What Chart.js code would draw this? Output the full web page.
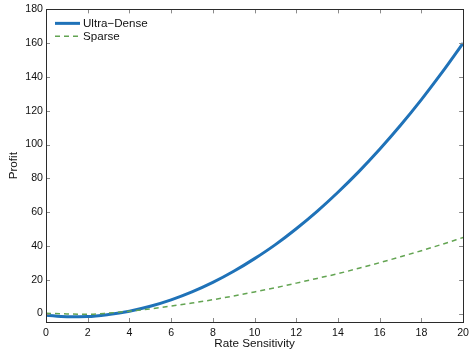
<!DOCTYPE html>
<html>
<head>
<meta charset="utf-8">
<script src="https://cdn.jsdelivr.net/npm/chart.js@4.4.1/dist/chart.umd.min.js"></script>
<style>
  html, body { margin: 0; padding: 0; background: #fff; }
  #wrap { width: 474px; height: 356px; }
</style>
</head>
<body>
<div id="wrap"><canvas id="chart" width="474" height="356"></canvas></div>
<script>
const rate = [0, 1, 2, 3, 4, 5, 6, 7, 8, 9, 10, 11, 12, 13, 14, 15, 16, 17, 18, 19, 20];
const ultraDense = [-1.0, -1.9, -1.8, -0.6, 1.4, 4.3, 8.1, 12.8, 18.4, 25.0, 32.5, 40.8, 50.2, 60.5, 71.8, 84.0, 97.2, 111.4, 126.6, 142.8, 160.0];
const sparse = [0.2, -0.2, -0.4, 0.3, 1.4, 2.8, 4.4, 6.2, 8.2, 10.4, 12.8, 15.3, 18.0, 20.8, 23.6, 26.8, 30.1, 33.6, 37.2, 41.0, 45.0];
const xTicks = [0, 2, 4, 6, 8, 10, 12, 14, 16, 18, 20];
const yTicks = [0, 20, 40, 60, 80, 100, 120, 140, 160, 180];

const font = "'Liberation Sans', Arial, Helvetica, sans-serif";

function toPoints(xs, ys) {
    return xs.map((x, i) => ({ x: x, y: ys[i] }));
}

// box around the plot with the ticks pointing inwards, like matlab
const boxPlugin = {
    id: 'boxTicks',
    afterDraw(chart) {
        const ctx = chart.ctx;
        const a = chart.chartArea;
        const xs = chart.scales.x;
        const ys = chart.scales.y;
        ctx.save();
        ctx.strokeStyle = '#8a8a8a';
        ctx.lineWidth = 1;
        ctx.beginPath();
        xTicks.forEach(v => {
            const px = Math.round(xs.getPixelForValue(v)) + 0.5;
            ctx.moveTo(px, a.bottom);
            ctx.lineTo(px, a.bottom - 4);
            ctx.moveTo(px, a.top);
            ctx.lineTo(px, a.top + 4);
        });
        yTicks.forEach(v => {
            const py = Math.round(ys.getPixelForValue(v)) + 0.5;
            ctx.moveTo(a.left, py);
            ctx.lineTo(a.left + 4, py);
            ctx.moveTo(a.right, py);
            ctx.lineTo(a.right - 4, py);
        });
        ctx.stroke();
        ctx.strokeStyle = '#2b2b2b';
        ctx.strokeRect(Math.round(a.left) + 0.5, Math.round(a.top) + 0.5,
            Math.round(a.right - a.left), Math.round(a.bottom - a.top));
        ctx.restore();
    }
};

// legend in the top left corner of the plot, line samples use the dataset styles
const legendPlugin = {
    id: 'cornerLegend',
    afterDraw(chart) {
        const ctx = chart.ctx;
        const a = chart.chartArea;
        ctx.save();
        ctx.font = '11.6px ' + font;
        ctx.textBaseline = 'middle';
        chart.data.datasets.forEach((ds, i) => {
            const y = a.top + 14 + i * 13;
            ctx.beginPath();
            ctx.strokeStyle = ds.borderColor;
            ctx.lineWidth = ds.borderWidth;
            ctx.setLineDash(ds.borderDash || []);
            ctx.moveTo(a.left + 9, y);
            ctx.lineTo(a.left + 34, y);
            ctx.stroke();
            ctx.setLineDash([]);
            ctx.fillStyle = '#111';
            ctx.fillText(ds.label, a.left + 37, y);
        });
        ctx.restore();
    }
};

const ctx = document.getElementById('chart').getContext('2d');
new Chart(ctx, {
    type: 'line',
    data: {
        datasets: [{
            label: 'Ultra\u2212Dense',
            data: toPoints(rate, ultraDense),
            borderColor: '#1f72b8',
            backgroundColor: '#1f72b8',
            borderWidth: 3,
            pointRadius: 0,
            cubicInterpolationMode: 'monotone',
            order: 1
        }, {
            label: 'Sparse',
            data: toPoints(rate, sparse),
            borderColor: '#63a452',
            backgroundColor: '#63a452',
            borderWidth: 1.5,
            borderDash: [5, 4],
            pointRadius: 0,
            cubicInterpolationMode: 'monotone',
            order: 0
        }]
    },
    options: {
        responsive: false,
        animation: false,
        layout: { padding: { left: 0, right: 10, top: 7, bottom: 0 } },
        plugins: {
            tooltip: { enabled: false },
            legend: { display: false }
        },
        scales: {
            x: {
                type: 'linear',
                min: 0,
                max: 20,
                grid: { display: false, drawTicks: false },
                border: { display: false },
                afterFit: s => { s.height = 34; },
                ticks: {
                    stepSize: 2,
                    padding: 5,
                    maxRotation: 0,
                    color: '#111',
                    font: { family: font, size: 10.6 }
                },
                title: {
                    display: true,
                    text: 'Rate Sensitivity',
                    color: '#111',
                    font: { family: font, size: 11.7 },
                    padding: { top: 0, bottom: 5 }
                }
            },
            y: {
                min: -5,
                max: 180,
                grid: { display: false, drawTicks: false },
                border: { display: false },
                afterFit: s => { s.width = 46; },
                ticks: {
                    stepSize: 20,
                    includeBounds: false,
                    padding: 3,
                    color: '#111',
                    font: { family: font, size: 10.6 }
                },
                title: {
                    display: true,
                    text: 'Profit',
                    color: '#111',
                    font: { family: font, size: 11.7 },
                    padding: { top: 7, bottom: 0 }
                }
            }
        }
    },
    plugins: [boxPlugin, legendPlugin]
});
</script>
</body>
</html>
